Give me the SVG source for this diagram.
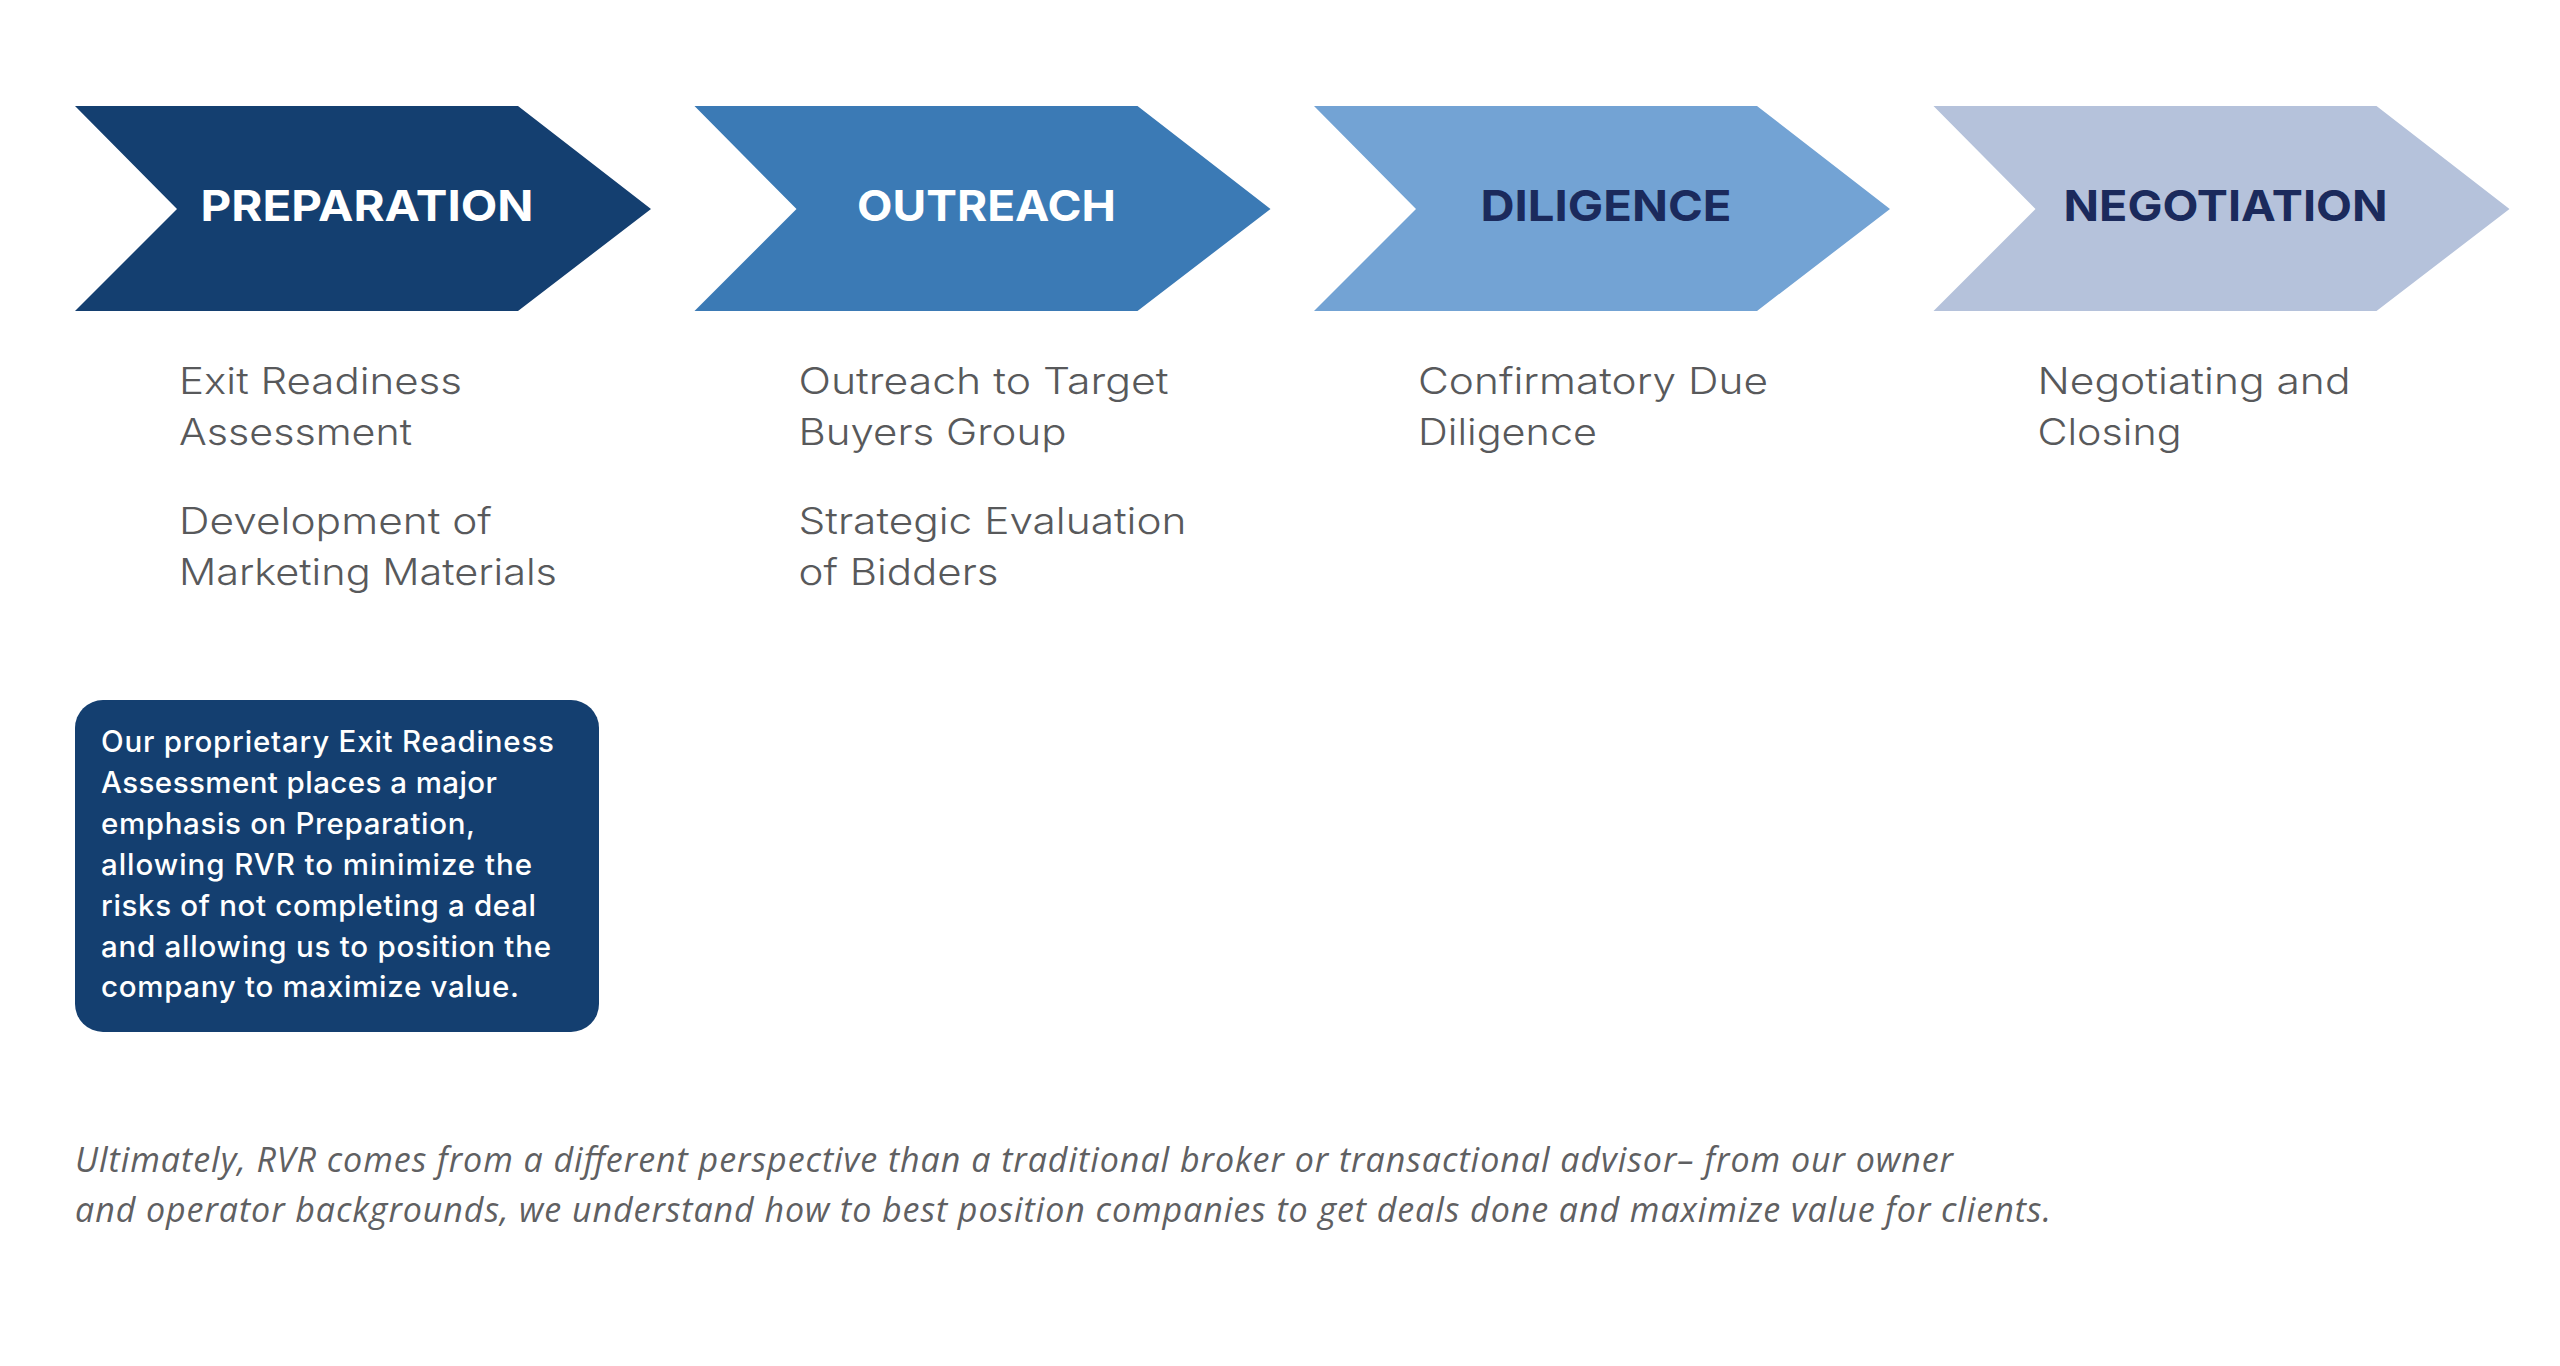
<svg xmlns="http://www.w3.org/2000/svg" xmlns:xlink="http://www.w3.org/1999/xlink" width="2560" height="1366" viewBox="0 0 2560 1366">
  <defs>
    <path id="chev" d="M0,0 H443 L576,103 L443,205 H0 L102,103 Z"/>
  </defs>
  <style>
    .lbl { font-family: Inter, "Liberation Sans", sans-serif; font-weight: 700; font-size: 43px; text-anchor: middle; }
    .lbl-light { fill: #ffffff; }
    .lbl-dark { fill: #1b2a5c; }
    .item { font-family: Inter, "Liberation Sans", sans-serif; font-weight: 300; font-size: 37px; fill: #58595b; }
    .note { font-family: Inter, "Liberation Sans", sans-serif; font-weight: 500; font-size: 29.5px; fill: #ffffff; }
    .foot { font-family: "Open Sans", "Liberation Sans", sans-serif; font-style: italic; font-size: 34px; fill: #5f6062; }
  </style>
  <rect width="2560" height="1366" fill="#ffffff"/>

  <g id="preparation">
    <use xlink:href="#chev" href="#chev" transform="translate(75,106)" fill="#143f70"/>
    <text class="lbl lbl-light" x="367" y="221" textLength="333" lengthAdjust="spacingAndGlyphs">PREPARATION</text>
    <text class="item" x="179" y="394" textLength="283" lengthAdjust="spacingAndGlyphs">Exit Readiness</text>
    <text class="item" x="179" y="444.5" textLength="233" lengthAdjust="spacingAndGlyphs">Assessment</text>
    <text class="item" x="179" y="534" textLength="313" lengthAdjust="spacingAndGlyphs">Development of</text>
    <text class="item" x="179" y="584.5" textLength="378" lengthAdjust="spacingAndGlyphs">Marketing Materials</text>
  </g>

  <g id="outreach">
    <use xlink:href="#chev" href="#chev" transform="translate(694.5,106)" fill="#3b7ab5"/>
    <text class="lbl lbl-light" x="986.5" y="221" textLength="259" lengthAdjust="spacingAndGlyphs">OUTREACH</text>
    <text class="item" x="798.5" y="394" textLength="370" lengthAdjust="spacingAndGlyphs">Outreach to Target</text>
    <text class="item" x="798.5" y="444.5" textLength="268" lengthAdjust="spacingAndGlyphs">Buyers Group</text>
    <text class="item" x="798.5" y="534" textLength="388" lengthAdjust="spacingAndGlyphs">Strategic Evaluation</text>
    <text class="item" x="798.5" y="584.5" textLength="200" lengthAdjust="spacingAndGlyphs">of Bidders</text>
  </g>

  <g id="diligence">
    <use xlink:href="#chev" href="#chev" transform="translate(1314,106)" fill="#73a3d4"/>
    <text class="lbl lbl-dark" x="1606" y="221" textLength="251" lengthAdjust="spacingAndGlyphs">DILIGENCE</text>
    <text class="item" x="1418" y="394" textLength="350" lengthAdjust="spacingAndGlyphs">Confirmatory Due</text>
    <text class="item" x="1418" y="444.5" textLength="179" lengthAdjust="spacingAndGlyphs">Diligence</text>
  </g>

  <g id="negotiation">
    <use xlink:href="#chev" href="#chev" transform="translate(1933.5,106)" fill="#b5c2db"/>
    <text class="lbl lbl-dark" x="2225.5" y="221" textLength="324" lengthAdjust="spacingAndGlyphs">NEGOTIATION</text>
    <text class="item" x="2037.5" y="394" textLength="313" lengthAdjust="spacingAndGlyphs">Negotiating and</text>
    <text class="item" x="2037.5" y="444.5" textLength="144" lengthAdjust="spacingAndGlyphs">Closing</text>
  </g>

  <g id="note">
    <rect x="75" y="700" width="524" height="332" rx="28" ry="28" fill="#143f70"/>
    <text class="note" x="101" y="752" textLength="453">Our proprietary Exit Readiness</text>
    <text class="note" x="101" y="793" textLength="396">Assessment places a major</text>
    <text class="note" x="101" y="834" textLength="374">emphasis on Preparation,</text>
    <text class="note" x="101" y="875" textLength="431">allowing RVR to minimize the</text>
    <text class="note" x="101" y="915.5" textLength="435">risks of not completing a deal</text>
    <text class="note" x="101" y="956.5" textLength="450">and allowing us to position the</text>
    <text class="note" x="101" y="997" textLength="418">company to maximize value.</text>
  </g>

  <g id="footer">
    <text class="foot" x="75" y="1172" textLength="1878">Ultimately, RVR comes from a different perspective than a traditional broker or transactional advisor– from our owner</text>
    <text class="foot" x="75" y="1222" textLength="1976">and operator backgrounds, we understand how to best position companies to get deals done and maximize value for clients.</text>
  </g>

  <g id="connectors"/>
</svg>
